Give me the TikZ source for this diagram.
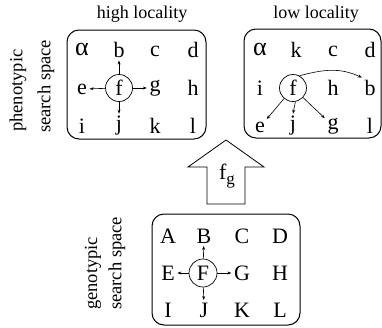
\documentclass[tikz,border=0pt]{standalone}
\usepackage{fontspec}
\setmainfont{Liberation Serif}
\usetikzlibrary{arrows.meta}
\begin{document}
\begin{tikzpicture}[x=1pt,y=-1pt,
  spacebox/.style={draw,line width=1pt,rounded corners=12pt},
  ltr/.style={inner sep=2.5pt,font=\fontsize{22}{26}\selectfont},
  circ/.style={draw,circle,line width=0.7pt,minimum size=27pt,inner sep=0pt,font=\fontsize{22}{26}\selectfont},
  lab/.style={font=\fontsize{18}{22}\selectfont},
  rlab/.style={font=\fontsize{18.5}{22}\selectfont,rotate=90,anchor=west,inner sep=0pt},
  arr/.style={-{Stealth[length=4pt,width=3pt]},line width=0.6pt}]
\useasboundingbox (0,0) rectangle (382,327);
% boxes
\draw[spacebox] (67,30) rectangle (206,139);
\draw[spacebox] (244,29) rectangle (381,138);
\draw[spacebox] (152,214) rectangle (300,325);
% titles
\node[lab] (hl) at (142,14) {high locality};
\node[lab] (ll) at (316,14) {low locality};
\node[rlab] (ph1) at (18,132) {phenotypic};
\node[rlab] (ph2) at (46,133) {search space};
\node[rlab] (ge1) at (93,310) {genotypic};
\node[rlab] (ge2) at (117,310) {search space};
% high locality
\node[ltr,font=\fontsize{26}{26}\selectfont] (la) at (82,49) {α};
\node[ltr] (lb) at (119,50) {b};
\node[ltr] (lc) at (155,51) {c};
\node[ltr] (ld) at (193,50) {d};
\node[ltr] (le) at (82,89) {e};
\node[circ] (lf) at (119,88) {f};
\node[ltr] (lg) at (155,88) {g};
\node[ltr] (lh) at (193,88) {h};
\node[ltr] (li) at (82,126) {i};
\node[ltr] (lj) at (119,126) {j};
\node[ltr] (lk) at (155,126) {k};
\node[ltr] (ll2) at (193,126) {l};
\draw[arr] (lf) -- (lb);
\draw[arr] (lf) -- (le);
\draw[arr] (lf) -- (lg);
\draw[arr] (lf) -- (lj);
% low locality
\node[ltr,font=\fontsize{26}{26}\selectfont] (ra) at (260,49) {α};
\node[ltr] (rk) at (296,50) {k};
\node[ltr] (rc) at (333,51) {c};
\node[ltr] (rd) at (370,50) {d};
\node[ltr] (ri) at (260,88) {i};
\node[circ] (rf) at (293,88) {f};
\node[ltr] (rh) at (333,88) {h};
\node[ltr] (rb) at (370,88) {b};
\node[ltr] (re) at (260,127) {e};
\node[ltr] (rj) at (293,126) {j};
\node[ltr] (rg) at (333,126) {g};
\node[ltr] (rl) at (370,126) {l};
\draw[arr] (rf) -- (re);
\draw[arr] (rf.-80) -- (rj.north);
\draw[arr] (rf) -- (rg);
\draw[arr] (rf.62) to[out=15,in=155] (rb.north west);
% block arrow
\draw[line width=0.8pt,line join=miter] (207,204) -- (207,167) -- (188,167) -- (226,140) -- (264,167) -- (245,167) -- (245,204) -- cycle;
\node[inner sep=0pt,font=\fontsize{22}{26}\selectfont] (fg) at (227,176) {f\raisebox{-0.55ex}{\fontsize{17}{17}\selectfont g}};
% genotypic
\node[ltr] (gA) at (168,236) {A};
\node[ltr] (gB) at (204,236) {B};
\node[ltr] (gC) at (242,236) {C};
\node[ltr] (gD) at (280,236) {D};
\node[ltr] (gE) at (168,273) {E};
\node[circ,minimum size=28pt] (gF) at (203,273) {F};
\node[ltr] (gG) at (242,273) {G};
\node[ltr] (gH) at (280,273) {H};
\node[ltr] (gI) at (168,310) {I};
\node[ltr] (gJ) at (204,310) {J};
\node[ltr] (gK) at (242,310) {K};
\node[ltr] (gL) at (280,310) {L};
\draw[arr] (gF) -- (gB);
\draw[arr] (gF) -- (gE);
\draw[arr] (gF) -- (gG);
\draw[arr] (gF) -- (gJ);
\end{tikzpicture}
\end{document}
